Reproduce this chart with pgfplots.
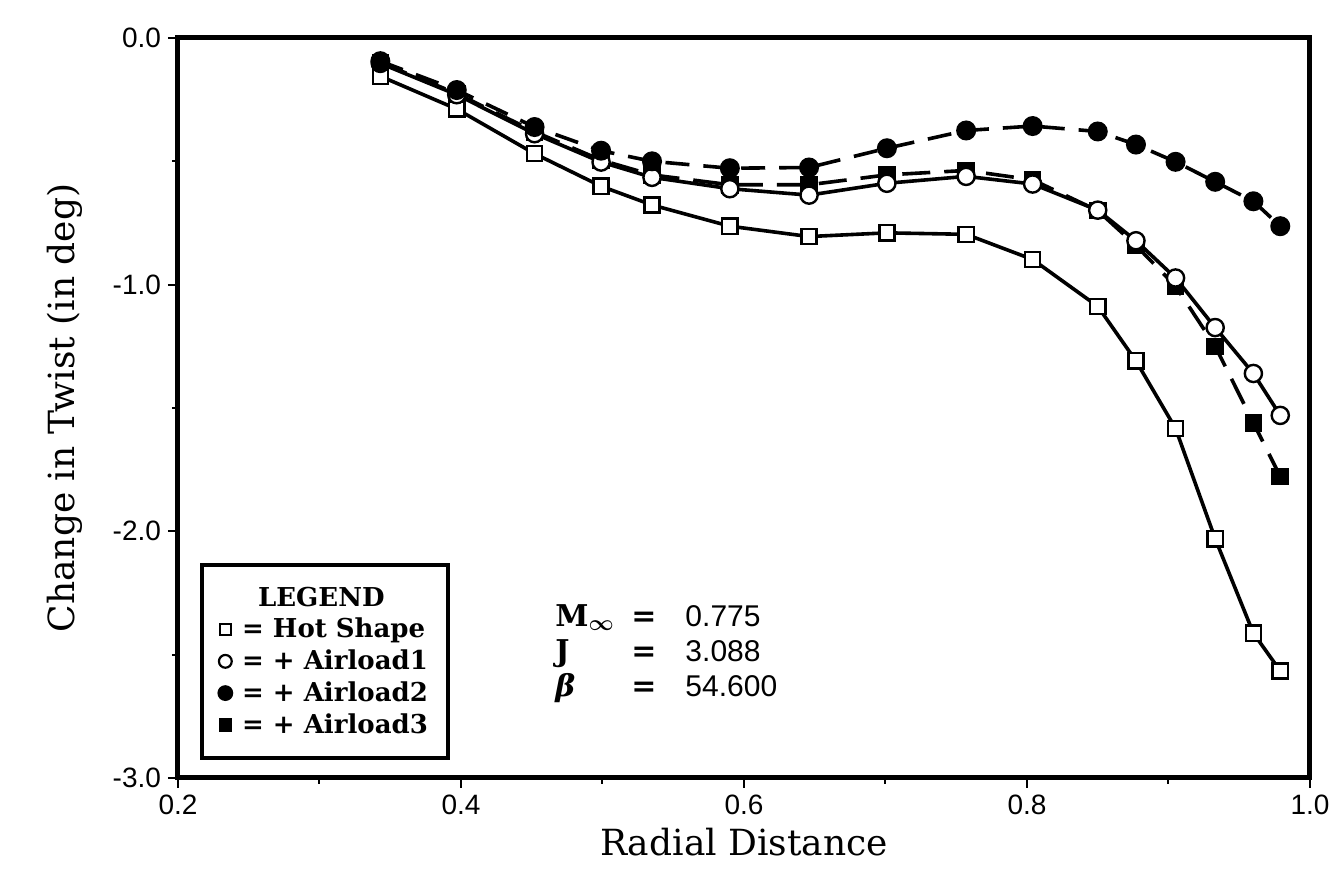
\documentclass[border=0pt]{standalone}
\usepackage{amsmath}
\usepackage{fontspec}
\setmainfont{DejaVu Serif}
\newfontfamily\ticksf{Liberation Sans}
\usepackage{pgfplots}
\pgfplotsset{compat=1.18}
\begin{document}
\begin{tikzpicture}
\useasboundingbox (-89pt,-46pt) rectangle (583pt,389pt);
\begin{axis}[
  scale only axis, width=566pt, height=370pt,
  xmin=0.2, xmax=1.0, ymin=-3, ymax=0,
  axis line style={line width=2.5pt},
  xtick={0.2,0.4,0.6,0.8,1.0}, minor xtick={0.3,0.5,0.7,0.9},
  ytick={0,-1,-2,-3}, minor ytick={-0.5,-1.5,-2.5},
  xtick pos=lower, ytick pos=left, tick align=outside,
  major tick length=5pt, minor tick length=3pt,
  every tick/.style={line width=1pt, black},
  /pgf/number format/assume math mode=true,
  tick label style={font=\ticksf\fontsize{14}{16}\selectfont},
  xticklabel style={/pgf/number format/.cd, fixed, fixed zerofill, precision=1},
  yticklabel style={/pgf/number format/.cd, fixed, fixed zerofill, precision=1},
  xlabel={Radial Distance}, ylabel={Change in Twist (in deg)},
  label style={font=\fontsize{18}{20}\selectfont},
  ylabel shift=8pt,
  legend image code/.code={\draw[line width=1.1pt,#1] plot coordinates {(0.13cm,0cm)};},
  legend style={at={(0.0194,0.024)}, anchor=south west, draw=black, line width=2pt,
    font=\bfseries\fontsize{13}{15}\selectfont, row sep=0.5pt,
    inner xsep=8pt, inner ysep=9pt},
  legend cell align=left,
]
% Hot Shape
\addplot[forget plot, black, line width=1.8pt, mark=square*, mark size=3.8pt,
  mark options={solid, fill=white, line width=1.2pt}] coordinates {
(0.343,-0.155) (0.397,-0.288) (0.452,-0.469) (0.499,-0.601) (0.535,-0.677)
(0.590,-0.763) (0.646,-0.805) (0.701,-0.790) (0.757,-0.796) (0.804,-0.898)
(0.850,-1.088) (0.877,-1.309) (0.905,-1.583) (0.933,-2.030) (0.960,-2.413)
(0.979,-2.566)};
% Airload3
\addplot[forget plot, black, line width=1.8pt, dash pattern=on 14pt off 7pt, mark=square*, mark size=3.8pt,
  mark options={solid, fill=black, line width=1.2pt}] coordinates {
(0.343,-0.100) (0.397,-0.225) (0.452,-0.380) (0.499,-0.495) (0.535,-0.555)
(0.590,-0.595) (0.646,-0.595) (0.701,-0.555) (0.757,-0.537) (0.804,-0.575)
(0.850,-0.700) (0.877,-0.841) (0.905,-1.006) (0.933,-1.250) (0.960,-1.560)
(0.979,-1.778)};
% Airload1
\addplot[forget plot, black, line width=1.8pt, mark=*, mark size=4.3pt,
  mark options={solid, fill=white, line width=1.2pt}] coordinates {
(0.343,-0.103) (0.397,-0.230) (0.452,-0.388) (0.499,-0.503) (0.535,-0.565)
(0.590,-0.611) (0.646,-0.637) (0.701,-0.589) (0.757,-0.561) (0.804,-0.592)
(0.850,-0.698) (0.877,-0.822) (0.905,-0.973) (0.933,-1.174) (0.960,-1.360)
(0.979,-1.530)};
% Airload2
\addplot[forget plot, black, line width=1.8pt, dash pattern=on 12pt off 7pt, mark=*, mark size=4.5pt,
  mark options={solid, fill=black, line width=1pt}] coordinates {
(0.343,-0.094) (0.397,-0.211) (0.452,-0.361) (0.499,-0.457) (0.535,-0.500)
(0.590,-0.528) (0.646,-0.525) (0.701,-0.447) (0.757,-0.375) (0.804,-0.357)
(0.850,-0.379) (0.877,-0.432) (0.905,-0.502) (0.933,-0.583) (0.960,-0.662)
(0.979,-0.763)};
\addlegendimage{empty legend}
\addlegendentry{\hspace*{11pt}LEGEND}
\addlegendimage{only marks, mark=square*, mark size=2.8pt, mark options={fill=white}}
\addlegendentry{\hspace*{3pt}= Hot Shape}
\addlegendimage{only marks, mark=*, mark size=3.2pt, mark options={fill=white}}
\addlegendentry{\hspace*{3pt}= + Airload1}
\addlegendimage{only marks, mark=*, mark size=3.4pt, mark options={fill=black}}
\addlegendentry{\hspace*{3pt}= + Airload2}
\addlegendimage{only marks, mark=square*, mark size=2.8pt, mark options={fill=black}}
\addlegendentry{\hspace*{3pt}= + Airload3}
\node[anchor=north west, inner sep=0pt] at (axis cs:0.4665,-2.283) {%
  \fontsize{15}{17.5}\selectfont
  \begin{tabular}{@{}p{38pt}@{}p{27pt}@{}l@{}}
  $\mathbf{M}_{\boldsymbol{\infty}}$ & \textbf{=} & {\ticksf 0.775}\\
  \textbf{J} & \textbf{=} & {\ticksf 3.088}\\
  {\bfseries\itshape β} & \textbf{=} & {\ticksf 54.600}
  \end{tabular}};
\end{axis}
\end{tikzpicture}
\end{document}
